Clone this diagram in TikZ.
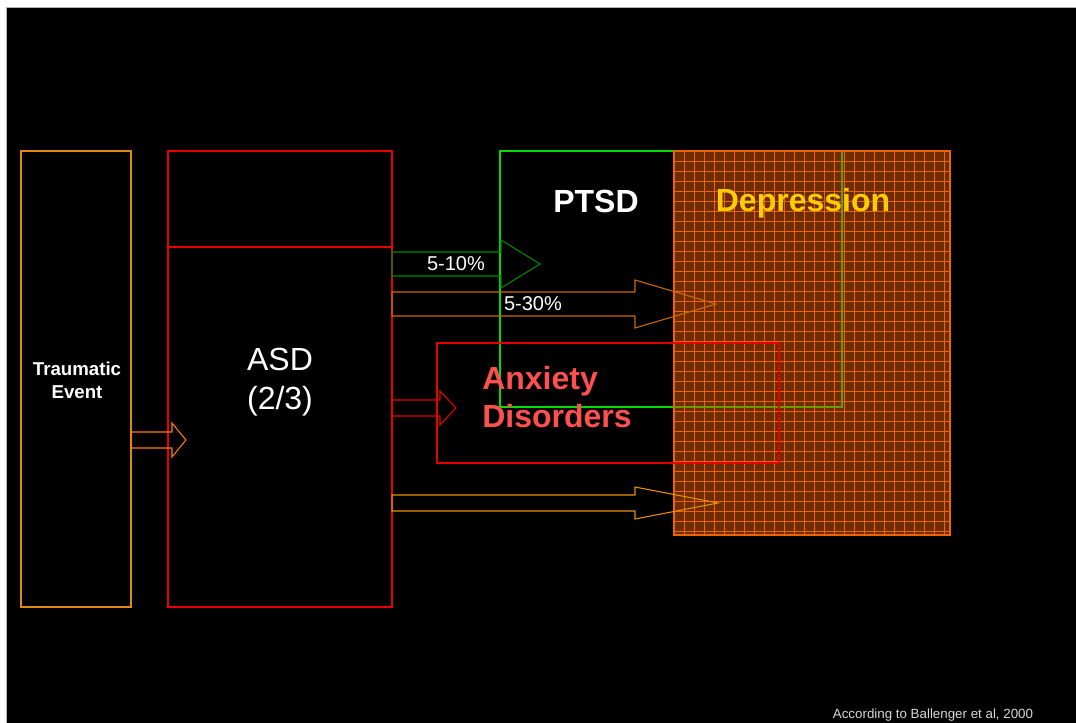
\documentclass[tikz,border=0pt]{standalone}
\usepackage{fontspec}
\setmainfont{Liberation Sans}
\usetikzlibrary{calc,positioning}
\definecolor{eventOrange}{HTML}{E08A10}
\definecolor{arrowOrange}{HTML}{FF7A10}
\definecolor{midOrange}{HTML}{D06A00}
\definecolor{lowOrange}{HTML}{E89000}
\definecolor{boxRed}{HTML}{E80000}
\definecolor{ptsdGreen}{HTML}{00DD00}
\definecolor{arrowGreen}{HTML}{008A00}
\definecolor{oliveGreen}{HTML}{6A9A00}
\definecolor{depFill}{HTML}{6E2C00}
\definecolor{depGrid}{HTML}{F06400}
\definecolor{depText}{HTML}{FFCC00}
\definecolor{anxText}{HTML}{FF5050}
\definecolor{noteGray}{HTML}{D8D8D8}
\tikzstyle{every node}=[inner sep=0pt, text centered]
\tikzstyle{frame} = [line width=0.8pt]
\tikzstyle{bigtext} = [font=\fontsize{24}{29}\selectfont, align=center]
\tikzstyle{pcttext} = [font=\fontsize{15}{18}\selectfont, white]

\begin{document}
\begin{tikzpicture}[x=0.75pt,y=-0.75pt,line join=miter]
    \useasboundingbox (0,0) rectangle (1076,723);
    \fill[white] (0,0) rectangle (1076,723);
    \draw[gray!60,fill=black] (6,7) rectangle (1078,725);

    \coordinate (eventNW) at (21,151);  \coordinate (eventSE) at (131,607);
    \coordinate (asdNW) at (168,151);   \coordinate (asdSE) at (392,607);
    \coordinate (ptsdNW) at (500,151);  \coordinate (ptsdSE) at (842,407);
    \coordinate (depNW) at (674,151);   \coordinate (depSE) at (950,535);
    \coordinate (anxNW) at (437,343);   \coordinate (anxSE) at (779,463);

    % depression, hatched
    \fill[depFill] (depNW) rectangle (depSE);
    \foreach \x in {684,694,...,944}
        \draw[depGrid, line width=0.5pt] (\x,151) -- (\x,535);
    \foreach \y in {161,171,...,531}
        \draw[depGrid, line width=0.5pt] (674,\y) -- (950,\y);

    % boxes
    \draw[frame, eventOrange] (eventNW) rectangle (eventSE);
    \draw[frame, boxRed] (asdNW) rectangle (asdSE);
    \draw[frame, boxRed] (168,247) -- (392,247);
    \draw[frame, ptsdGreen] (ptsdNW) rectangle (ptsdSE);
    \begin{scope}
        \clip (depNW) rectangle (depSE);
        \draw[frame, oliveGreen] (ptsdNW) rectangle (ptsdSE);
    \end{scope}
    \draw[frame, depGrid] (depNW) rectangle (depSE);
    \draw[frame, boxRed] (anxNW) rectangle (anxSE);

    % labels
    \node[font=\fontsize{14}{17}\selectfont\bfseries, white, align=center] (eventLabel) at (77,380) {Traumatic\\Event};
    \node[bigtext, white] (asdLabel) at (280,382) {ASD\\(2/3)};
    \node[bigtext, white, font=\fontsize{24}{29}\selectfont\bfseries] (ptsdLabel) at (596,201) {PTSD};
    \node[bigtext, depText, font=\fontsize{24}{29}\selectfont\bfseries] (depLabel) at (803,203) {Depression};
    \node[bigtext, anxText, font=\fontsize{24}{28}\selectfont\bfseries, align=left, anchor=west] (anxLabel) at (482,397) {Anxiety\\Disorders};

    % fat arrows
    \coordinate (eventTail) at (131,440);
    \coordinate (ptsdTail) at (392,264);
    \coordinate (depTail) at (392,304);
    \coordinate (anxTail) at (392,408);
    \coordinate (lowTail) at (392,503);

    \draw[frame, arrowOrange] (eventTail) ++(0,-8) -- ++(41,0) -- ++(0,-9) -- ++(14,17) -- ++(-14,17) -- ++(0,-9) -- ++(-41,0) -- cycle;
    \draw[frame, arrowGreen] (ptsdTail) ++(0,-12) -- ++(109,0) -- ++(0,-12) -- ++(39,24) -- ++(-39,24) -- ++(0,-12) -- ++(-109,0) -- cycle;
    \draw[frame, midOrange] (depTail) ++(0,-12) -- ++(243,0) -- ++(0,-12) -- ++(81,24) -- ++(-81,24) -- ++(0,-12) -- ++(-243,0) -- cycle;
    \draw[frame, boxRed] (anxTail) ++(0,-8) -- ++(48,0) -- ++(0,-9) -- ++(16,17) -- ++(-16,17) -- ++(0,-9) -- ++(-48,0) -- cycle;
    \draw[frame, lowOrange] (lowTail) ++(0,-8) -- ++(243,0) -- ++(0,-8) -- ++(83,16) -- ++(-83,16) -- ++(0,-8) -- ++(-243,0) -- cycle;

    \node[pcttext] (ptsdPct) at (456,264) {5-10\%};
    \node[pcttext] (depPct) at (533,304) {5-30\%};

    \node[font=\fontsize{10}{12}\selectfont, noteGray] (source) at (933,715) {According to Ballenger et al, 2000};
\end{tikzpicture}
\end{document}
